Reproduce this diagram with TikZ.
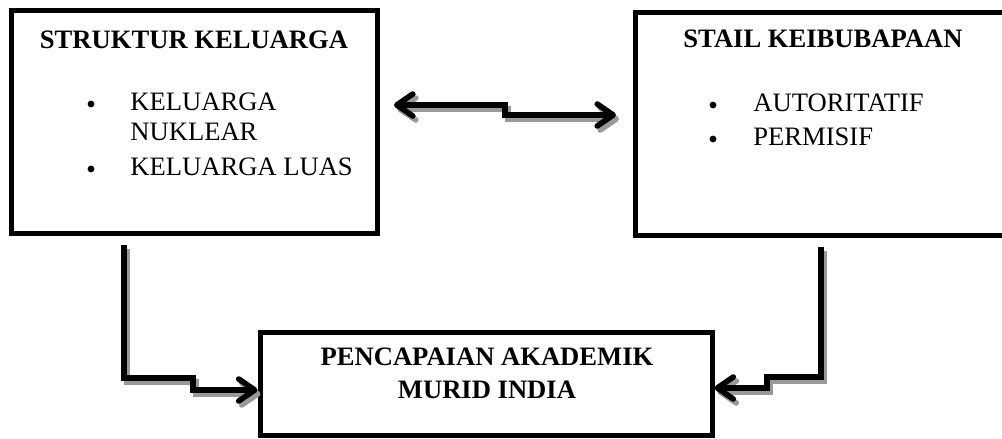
\documentclass[tikz,border=0pt]{standalone}
\usepackage{fontspec}
\setmainfont{Liberation Serif}
\usetikzlibrary{arrows.meta}
\begin{document}
\begin{tikzpicture}[x=0.5pt,y=-0.5pt,
  box/.style={draw, line width=2.5pt, rectangle, inner sep=0pt},
  ttl/.style={font=\fontsize{13.3}{16.5}\selectfont\bfseries, anchor=base, inner sep=0pt},
  itm/.style={font=\fontsize{13.3}{16.5}\selectfont, anchor=base west, inner sep=0pt},
  bul/.style={circle, fill=black, inner sep=0pt, minimum size=3.4pt},
  barb/.style={-{Straight Barb[length=8pt,width=11pt,line cap=round,line join=round]}},
  dbarb/.style={{Straight Barb[length=8pt,width=11pt,line cap=round,line join=round]}-{Straight Barb[length=8pt,width=11pt,line cap=round,line join=round]}},
  conn/.style={line width=2.8pt, line join=miter},
  shad/.style={draw=black!40, transform canvas={xshift=1.5pt,yshift=-2pt}}
]
\useasboundingbox (0,0) rectangle (1002,439);
\clip (0,0) rectangle (1002,439);

% boxes
\node[box, minimum width=183pt, minimum height=111.5pt] (sk) at (194,121.5) {};
\node[box, minimum width=188.5pt, minimum height=111.5pt] (sb) at (823.5,123.5) {};
\node[box, minimum width=226pt, minimum height=51.5pt] (pa) at (486,383.5) {};

% texts left box
\node[ttl] (skt) at (194,48) {STRUKTUR KELUARGA};
\node[bul] (skb1) at (91,104) {};
\node[itm] (ski1) at (130,110) {KELUARGA};
\node[itm] (ski1b) at (130,140) {NUKLEAR};
\node[bul] (skb2) at (91,169) {};
\node[itm] (ski2) at (130,175) {KELUARGA LUAS};

% texts right box
\node[ttl] (sbt) at (823,47) {STAIL KEIBUBAPAAN};
\node[bul] (sbb1) at (713,105) {};
\node[itm] (sbi1) at (753,111) {AUTORITATIF};
\node[bul] (sbb2) at (713,139) {};
\node[itm] (sbi2) at (753,145) {PERMISIF};

% texts bottom box
\node[ttl] (pat1) at (487,365) {PENCAPAIAN AKADEMIK};
\node[ttl] (pat2) at (487,398) {MURID INDIA};

% connector coordinates
\coordinate (ta) at (394,105);
\coordinate (tb) at (505,105);
\coordinate (tc) at (505,115);
\coordinate (td) at (616,115);

\coordinate (ls) at (124,245);
\coordinate (l1) at (124,378);
\coordinate (l2) at (193,378);
\coordinate (l3) at (193,390);

\coordinate (rs) at (821,247);
\coordinate (r1) at (821,377);
\coordinate (r2) at (767,377);
\coordinate (r3) at (767,388);

% shadows
\draw[conn, dbarb, shad] (ta) -- (tb) -- (tc) -- (td);
\draw[conn, barb, shad] (ls) -- (l1) -- (l2) -- (l3) -- (pa.west |- l3);
\draw[conn, barb, shad] (rs) -- (r1) -- (r2) -- (r3) -- (pa.east |- r3);

% connectors
\draw[conn, dbarb] (ta) -- (tb) -- (tc) -- (td);
\draw[conn, barb] (ls) -- (l1) -- (l2) -- (l3) -- (pa.west |- l3);
\draw[conn, barb] (rs) -- (r1) -- (r2) -- (r3) -- (pa.east |- r3);
\end{tikzpicture}
\end{document}
